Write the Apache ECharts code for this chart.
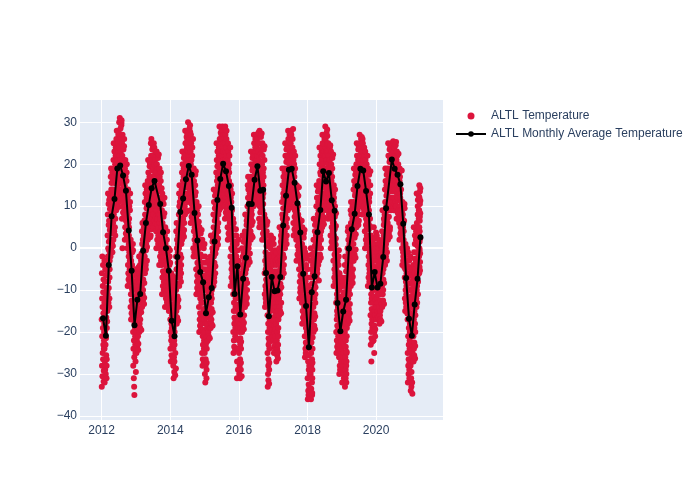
<!DOCTYPE html>
<html>
<head>
<meta charset="utf-8">
<script src="https://cdn.jsdelivr.net/npm/echarts@6/dist/echarts.min.js"></script>
<style>
    html, body { margin: 0; padding: 0; background: #fff; }
    #chart { width: 700px; height: 500px; }
</style>
</head>
<body>
<div id="chart"></div>
<script>
// Temperature readings, one list per month (Jan..Dec) for each year
var temp2012 = [
    [-17, -33, -6, -28, -12, -21, -2, -30.5, -14, -25, -9, -19, -4, -26.5, -10.5, -23, -15.5, -7.5, -31.8, -29.2, -24, -22, -20, -18, -13, -3],
    [-24, -32, -15, -27, -8, -20, -29, -5, -18, -23, -11, -30, -13, -21.5, -6.5, -25.5, -16.5, -9.5, -31, -28, -26.5, -19, -14, -12, -17.5, -10.3],
    [-15, -6, 3, -11, 8, -2, 13, -8, 0, -4, -13, 10.5, 5.5, -9.5, 1.5, -0.5, 6.5, 11.5, -14, -12, -7, -5, -3, 4.3, 9.3, 12.3, -1.3],
    [2, 12, -2, 8, 17, 5, 10, 19, 0, 14, 3.5, 15.5, 6.5, 9, 11, 1, 13, 18, -1, 4.3, 7.3, 16.3, 0.5, 12.5],
    [6, 14, 2, 21, 10, 25, 8, 17, 12, 4, 19, 23, 15.5, 9, 13, 5, 11, 20, 3, 7, 18, 22, 24, 16.3],
    [14, 22, 9, 26, 18, 12, 28, 20, 16, 24, 10.5, 13, 17, 19, 21, 15, 23, 25, 27, 11.3, 9.8, 27.7],
    [17, 24, 11, 30, 20, 14, 27, 22, 31, 18, 12.5, 15.5, 21, 25.5, 28.5, 19, 23, 16.5, 11.8, 13.3, 26.3, 29.3, 29.8, 30.5],
    [12, 20, 7, 25, 16, 22, 0, 27, 18, 14, 10, 8.5, 13, 19, 23.5, 15, 21, 11, 17, 24.3, 26, 9.3, 7.8],
    [8, 15, 2, 19, 12, 5, 21, 10, 17, 14, 3.5, 6.5, 9, 11, 13, 16, 18, 20, 2.8, 4.3, 5.8, 7.3],
    [0, 8, -9, 12, 4, -4, 14, 2, -6, 6, -7.5, -2, 1, 3, 5, 7, 10, -1, -8.3, -6.8, -5, -3, 9, 11, 13],
    [-8, -2, -14, 2, -5, -11, -17, -3, 0, -7, -15.5, -12.5, -9.5, -6, -4, -1, -10, -13, -16.3, -14.8, 1, -0.5],
    [-20, -28, -10, -24, -5, -16, -31, -22, -13, -33, -26, -35, -18, -8, -11.5, -14.5, -17, -19, -21, -23, -25, -27, -9, -6.5, -29.5]
];
var temp2013 = [
    [-12, -20, -5, -16, -25, -9, -14, -22, -7, -11, -23.5, -18, -13, -6, -8, -10, -15, -21, -19, -24.3, -22.8, -17, -5.8, -4.5],
    [-10, -16, -2, -13, -20, -6, -18, -8, -12, -4, -19, -17, -14.5, -11, -9, -7, -5, -3, -15.3, -19.5, -2.5, -1.3],
    [-2, -9, 4, -14, 1, -6, 6, -4, -11, 2, -12.5, -10, -7.5, -5, -3, -1, 0, 3, 5, -13.3, -11.8, -8.3, 6.6],
    [5, -2, 11, -6, 8, 15, 2, 13, 6, -4, -5, -0.5, 1, 3.5, 7, 9.5, 12, 14, -3, 0.3, 4.3, 10.3],
    [10, 4, 16, 2, 13, 21, 7, 18, 11, 8, 3, 5.5, 9, 12, 14.5, 17, 19.5, 15, 20.3, 6.3, 2.6],
    [14, 6, 20, 3, 17, 25, 10, 22, 12, 26, 4.5, 8, 11, 13, 15.5, 18.5, 21, 23.5, 5.3, 7, 9, 16.3, 19.3, 24.3],
    [16, 8, 22, 5, 19, 25, 12, 20, 14, 24, 6.5, 10, 13, 15, 17.5, 21, 23, 11, 5.8, 7.3, 9, 18.3],
    [13, 4, 18, 0, 15, 23, 9, 20, 11, 7, 2, 5.5, 10, 12, 14, 16.5, 19, 21.5, 1, 3, 4.8, 8, 17.3, 22.3],
    [10, 2, 15, -4, 12, 19, 6, 17, 8, 0, -2, 4, 7, 9, 11, 13.5, 16, 18, -3, -1, 1, 3, 5, 14.3],
    [4, -4, 9, -11, 2, 13, -7, 6, 0, 11, -9, -5.5, -2, 1, 3, 5, 7.5, 10.5, -10, -8, -6.3, -3, -1, 8.3, 12],
    [0, -6, 3, -14, -2, 5, -10, 1, -4, -8, -12, -11, -9, -7, -5, -3, -1, 2, -13, 4, -12.7],
    [-5, -10, -1, -14, -7, -3, -12, -6, 0, -9, -15, -13, -11, -8, -4, -2, -14.5, -0.5, -7.5, -3.5]
];
var temp2014 = [
    [-17, -24, -8, -20, -27, -12, -15, -22, -6, -18, -25.5, -21, -19, -16, -13.5, -10, -23, -14, -26.3, -11, -9, -7, -6.7],
    [-21, -28, -10, -24, -31, -15, -19, -26, -8, -22, -29.5, -27, -23, -20, -17, -13, -11.5, -18, -30.3, -25, -16, -14, -12.3, -9, -28.7],
    [-2, -10, 4, -15, -5, 6, -18, 0, -7, 2, -16.5, -13, -11.5, -8.5, -3.5, -1, 1, 3, -17.3, -14, -12.3, -6, -4.3, 5],
    [8, 0, 13, -9, 10, 15, 4, -3, 11, 6, -7, -5, -1.5, 2, 5, 7, 9, 12, -8, -6, -4, -2.3, 1, 3, 14],
    [12, 5, 18, 2, 14, 23, 9, 20, 11, 16, 3.5, 7, 10, 13, 15, 17, 19, 21.5, 2.7, 4.3, 6, 8, 22.3],
    [16, 10, 22, 8, 19, 28, 13, 25, 17, 21, 9, 11.5, 14.5, 18, 20, 23.5, 26.5, 15, 8.7, 12.3, 24.3, 27.3, 25.7],
    [20, 13, 25, 11, 22, 30, 16, 27, 19, 23, 12, 14.5, 17.5, 21, 24, 26, 28.5, 18, 11.7, 13.7, 15.3, 29.3, 27.7],
    [18, 9, 23, 6, 20, 27, 13, 25, 16, 21, 7.5, 10.5, 12, 14.5, 17, 19, 22, 24, 6.8, 8.3, 9.8, 11.3, 15.3, 26],
    [8, 0, 14, -2, 11, 19, 4, 16, 6, 10, -1, 2, 5, 7, 9, 12.5, 15, 17.5, 1, 3, 13.3, 18.3, -1.5],
    [2, -5, 7, -11, 4, 11, -2, 9, -8, 0, -9.5, -6.5, -3.5, -1, 1, 3, 5.5, 8, -10.3, -8.8, -7.3, -5.8, -4.3, 10, 6.3],
    [-6, -14, 0, -20, -3, 5, -10, -17, -8, 2, -18.5, -15.5, -12, -11, -4.5, -1.5, 3.5, -7, -19.3, -17.8, -16.3, -13, -9, 1, 4.3],
    [-8, -18, -2, -25, -5, 2, -13, -28, -10, -21, -26.5, -23, -19.5, -16, -14.5, -11.5, -6.5, -3.5, 0, -27.3, -24, -22, -20.3, -17, -9, 1]
];
var temp2015 = [
    [-15, -25, -5, -30, -10, -2, -20, -32, -13, -18, -28, -26.5, -23, -21.5, -16.5, -11.5, -8, -3.5, -7, -31, -29, -27.3, -24, -22.3, -19, -14, -12.3, -9, -6],
    [-12, -18, -5, -22, -9, -3, -15, -20, -11, -7, -21, -16.5, -14, -13, -10, -8, -6, -4, -21.5, -19, -17.3, -15.8],
    [-9, -16, -2, -19, -6, 3, -13, -11, -4, -17, -18, -14.5, -12, -10, -7.5, -5, -3, 0, 1.5, -18.5, -15.3, -8.3, -1, 2.3],
    [2, -5, 8, -9, 5, 14, -2, 11, 0, -7, -8, -3.5, 1, 3.5, 6.5, 9.5, 12.5, -0.5, -6, -4.3, -1.3, 4.3, 7.3, 10.3, 13.3],
    [11, 3, 18, 0, 14, 25, 7, 21, 9, 16, 1.5, 5, 12.5, 19.5, 23, 10, 17, 15, 0.8, 2.3, 4, 6, 8, 13.3, 20.3, 22, 24],
    [16, 10, 23, 9, 19, 29, 13, 26, 18, 21, 11.5, 14.5, 17, 20, 22, 24.5, 27.5, 15, 9.6, 10.8, 12.3, 13.8, 25.3, 26.8, 28.3],
    [20, 13, 26, 11, 22, 29, 16, 28, 19, 24, 12, 14.5, 17.5, 21, 23, 25, 27, 18, 11.6, 12.6, 13.8, 15.3, 16.8, 28.6],
    [18, 10, 25, 7, 21, 29, 14, 27, 17, 23, 8.5, 12, 15.5, 19.5, 22, 24, 26, 28, 7.7, 9.3, 11, 13, 14.8, 16.3, 20.3],
    [15, 5, 21, 2, 17, 25, 10, 23, 13, 19, 3.5, 7, 8.5, 11.5, 14, 16, 18, 20, 22, 2.7, 4.3, 6, 7.7, 9.3, 10.8, 12.3, 24],
    [10, -2, 14, -9, 12, 15, 4, 8, 0, 11, -7, -5, -3.5, 2, 6, 9, 13, -0.5, -8, -6, -4.3, -2.8, 1, 3, 5, 7],
    [-11, -20, -3, -25, -8, 6, -15, -22, -13, 0, -23.5, -18, -16.5, -10, -6, -4.5, -1.5, 3, 1.5, -24.3, -21, -19, -17.3, -14, -12, -9, -7, 4.5],
    [-4, -12, 3, -20, -2, -8, -15, 1, -6, -31, -27, -18, -16.5, -13.5, -10, -9, -5, -0.5, -24, -29, -19, -17.3, -14.3, -11, -7, -3, 2, -22]
];
var temp2016 = [
    [-16, -25, -8, -30, -12, -6, -20, -28, -14, -18, -31, -26.5, -23, -21.5, -19, -15, -10.5, -13, -29, -27.3, -24, -22.3, -17, -11.3, -9.3, -7, -30.5],
    [-7, -15, 0, -20, -4, 3, -11, -17, -9, -2, -18.5, -13, -12, -10, -6, -5, -1, 1.5, -19.3, -17.8, -16, -14, -8, -3, 2.3],
    [-2, -9, 4, -14, 0, 8, -6, -11, 2, -4, -12.5, -7.5, -5, -0.5, 1, 3, 5.5, 6.5, -13.3, -11.8, -10, -8.3, -3, 7.3],
    [10, 2, 15, -4, 12, 17, 6, 14, 8, 0, -2.5, 1, 4, 5, 7, 9, 11, 13, -3.3, -1.3, 3, 16, 16.6],
    [10, 4, 17, 2, 13, 23, 7, 20, 9, 15, 3, 5.5, 8, 11.5, 14, 16, 18.5, 21.5, 2.6, 6.3, 12.3, 19.3, 22.3],
    [16, 11, 22, 10, 19, 27, 14, 25, 17, 20, 12.5, 15, 18, 21, 23, 24, 26, 13, 10.5, 11.8, 26.5],
    [19, 13, 24, 11, 21, 27, 16, 26, 18, 22, 12, 14.5, 15, 17, 20, 23, 25, 27.5, 11.6, 12.6, 13.8],
    [14, 7, 21, 5, 17, 28, 10, 25, 12, 19, 6, 8.5, 11, 13, 15.5, 18, 22.5, 26.5, 5.6, 9.3, 16.3, 20, 23.8, 27.3],
    [14, 5, 20, 2, 16, 25, 9, 22, 12, 18, 3.5, 7, 10.5, 13, 15, 17, 19, 23.5, 2.7, 4.3, 6, 8, 21, 24.3],
    [-6, -11, 2, -14, -3, 7, -9, -1, -12, -5, -13, -10, -7.5, -4, -2, 0.5, 4, 5.5, -13.5, -8.3, 1.3, 3, 6.3],
    [-16, -25, -8, -33, -12, 3, -20, -30, -4, -18, -28, -31.5, -26.5, -23, -21.5, -14, -10, -6, -1.5, 0.5, -32.3, -29, -27.3, -24, -22.3, -19, -17, -15, -13, -11, -9, -7, -5, -2.8, 1.8],
    [-7, -15, 0, -22, -4, 3, -11, -18, -2, -9, -20.5, -16.5, -13, -12, -5.5, 1.5, -19.5, -14, -21.3, -17.3, -10, -8, -6.3, -3, -1, 2.3]
];
var temp2017 = [
    [-10, -17, -4, -22, -7, 1, -13, -25, -2, -11, -23.5, -20, -18.5, -15, -12, -8.5, -5.5, -0.5, -24.3, -22.8, -21, -19.3, -16, -14, -9.3, -6.3, -3, -1.3],
    [-10, -18, -4, -27, -7, -1, -14, -22, -12, -8, -25.5, -24, -20, -16, -11, -5.5, -2.5, -15, -26.3, -24.8, -23, -21, -19, -17, -13, -9, -6.3, -3.3],
    [-7, -12, 0, -16, -4, 5, -10, -14, -2, -6, -15, -11, -8.5, -5, -3, -1, 1.5, 3, -15.5, -13, -9.3, 0.8, 2.3, 4],
    [5, -3, 11, -7, 8, 19, 2, 15, 0, 7, -5, -1.5, 3.5, 9.5, 13, 17, 12, 6, -6, -4, -2.3, 1, 4.3, 14, 16, 18],
    [12, 4, 19, 0, 15, 25, 8, 22, 10, 17, 2, 6, 11, 13.5, 16, 20.5, 23.5, 14, 1, 3, 5, 7, 9, 18, 21.3, 24.3],
    [19, 11, 24, 9, 21, 28, 15, 26, 17, 22, 10, 12.5, 14, 16, 18, 20, 23, 27, 9.6, 10.6, 11.8, 13.3, 25, 27.5],
    [19, 13, 25, 11, 21, 28, 16, 27, 18, 23, 12, 14.5, 15, 17, 20, 22, 24, 26, 11.6, 12.6, 13.8, 28.4],
    [16, 6, 21, 3, 18, 23, 10, 20, 13, 17, 4.5, 7.5, 9, 11.5, 14.5, 19, 22, 15, 3.8, 5.3, 6.8, 8.3, 12.3],
    [11, 2, 14, -3, 12, 15, 6, 13, 9, 4, -1.5, 0.5, 3, 5, 7.5, 10, 8, 12.5, -2.3, -0.5, 1.3, 14.5],
    [4, -5, 7, -12, 5, 2, -8, 6, 0, -2, -10.5, -9.5, -6.5, -3.5, -1, 1, 3, -4, -11.3, -8.8, -7.3, -5.8, 6.5],
    [-6, -13, 1, -18, -3, 5, -10, -15, -8, -1, -16.5, -11.5, -9, -7, -4.5, -2, 2.5, 3.5, -17.3, -15.8, -14, -12.3, 0, 4.3],
    [-14, -21, -6, -26, -10, -1, -17, -24, -12, -8, -25, -22.5, -19, -15.5, -11, -4, -2.5, -18, -25.5, -23.3, -20, -16.3, -13, -9, -7, -5, -1.8]
];
var temp2018 = [
    [-24, -31, -13, -36, -20, -9, -27, -34, -17, -22, -35, -32.5, -29, -25.5, -18.5, -15, -11, -28, -35.5, -33.3, -30, -23, -21, -19.3, -16, -14, -12, -10],
    [-10, -20, -3, -30, -7, 0, -15, -36, -12, -25, -33.5, -28, -22.5, -18, -13.5, -5, -1.5, -8.5, -32, -26.5, -35, -34.5, -31, -29, -27.3, -24, -21.3, -19, -16.5, -11, -6, -4, -2.3],
    [-7, -14, 2, -20, -4, 7, -10, -17, -1, -6, -18.5, -15.5, -12, -8.5, -2.5, 0.5, 4, 5.5, -19.3, -16.3, -13, -11, -9.3, -5, -3.3, 1.3, 3, 6.3],
    [4, -3, 10, -7, 6, 15, 0, 12, 2, -5, -6, -1.5, 1, 3, 8, 13.5, 7, 11, -4, -2.3, 5, 9, 14.3, -7.7],
    [9, 1, 16, -3, 12, 24, 5, 20, 7, 14, -1.5, 3, 10.5, 18, 22, 11, 15, 17.5, -2.3, 0, 2, 4, 6, 8, 13, 19, 21, 23],
    [18, 8, 24, 5, 21, 27, 13, 25, 16, 20, 6.5, 10, 11.5, 14.5, 17, 19, 22.5, 23, 5.7, 7.3, 9, 12.3, 15.3, 26, 26.6],
    [16, 11, 22, 10, 19, 29, 13, 26, 15, 24, 12, 14, 17.5, 20.5, 23, 27.5, 18, 21, 10.5, 25, 28.3, 26.7, 24.7],
    [18, 9, 23, 7, 20, 25, 13, 22, 16, 11, 8, 10, 12, 14.5, 17, 19, 21, 24, 7.5, 15.3, 24.5],
    [11, 3, 18, 0, 14, 23, 7, 20, 9, 16, 1.5, 5, 10, 12.5, 15, 17, 19, 21.5, 0.7, 2.3, 4, 6, 8, 13.3, 22.3],
    [9, -3, 13, -9, 11, 15, 3, 12, 6, 0, -7, -5, -1.5, 1.5, 4.5, 7.5, 10, 14, -8, -6, -4, -2.3, -0.7, 0.8, 2.3, 5.3, 8.3],
    [-13, -20, -5, -25, -9, -1, -17, -22, -11, -15, -23.5, -18.5, -16, -12, -7, -3, -10, -14, -24.3, -22.8, -21, -19.3, -8, -6, -4, -2, -0.5],
    [-20, -26, -10, -30, -16, -6, -23, -28, -18, -13, -29, -24.5, -21.5, -19, -14.5, -11.5, -8, -17, -29.5, -27, -25.3, -22.3, -15.3, -12.3, -9, -7]
];
var temp2019 = [
    [-15, -24, -9, -32, -12, -8, -19, -28, -14, -21, -30, -26, -22.5, -17, -16, -10.5, -13, -25, -31, -29, -27, -23.3, -20, -18, -11.3],
    [-12, -20, -4, -33, -9, -2, -16, -26, -11, -14, -31, -29, -23.5, -22, -18, -7, -5.5, -28, -32, -30, -27, -25, -24.7, -21, -19, -17, -15, -13, -10, -8, -3, -4.7],
    [0, -8, 4, -18, -3, 5, -12, 2, -5, -1, -16.5, -14.5, -10, -6.5, -9, -4, 1, 3, -17.3, -15.5, -13.3, -11, -7.3, -2, -0.5],
    [4, -4, 9, -9, 6, 11, 0, 8, 2, -2, -7.5, -6, -0.5, 1, 3, 5, 7, 10, -8.3, -6.8, -5, -3, -1.3],
    [8, 1, 14, -3, 11, 19, 4, 16, 6, 10, -1.5, 2.5, 5, 9, 12.5, 15, 17.5, 13, -2.3, -0.3, 3.3, 7, 18.3],
    [15, 7, 20, 5, 17, 25, 11, 22, 13, 18, 6, 9, 12, 14, 16, 19, 21, 23.5, 5.5, 8, 10, 24.3, 6.5],
    [19, 12, 24, 10, 21, 27, 15, 25, 17, 22, 11, 13.5, 16, 18, 20, 23, 26, 14, 10.5, 11.5, 12.7, 26.5],
    [18, 11, 23, 8, 20, 26, 14, 25, 16, 21, 9.5, 12.5, 13, 15, 17, 19, 22, 24, 8.7, 10.2, 11.7],
    [14, 4, 19, 0, 16, 23, 9, 21, 12, 17, 2, 5.5, 7, 10.5, 13, 15, 18, 20, 1, 3, 4.8, 6.3, 8, 9.8, 11.3, 22],
    [8, 0, 14, -9, 10, 19, 3, 16, 6, -4, -7, -2, 1.5, 4.5, 9, 12, 17.5, 11, -8, -6, -5, -3, -1, 2.3, 5.3, 7, 13, 15, 18.3],
    [-9, -16, -2, -23, -6, 3, -13, -20, -11, -27, -21.5, -18, -14.5, -12, -8, -4, 0, -17, -22.3, -19, -15.3, -10, -7, -5, -3, -1, 1, 2],
    [-6, -13, 1, -22, -3, 5, -10, -17, -8, -25, -20, -18.5, -15, -11.5, -4.5, -1, 2.5, -14, -21, -19.3, -16, -12.3, -9, -7, -5.3, -2, 0, 3.7]
];
var temp2020 = [
    [-9, -14, -3, -17, -7, 3, -12, -5, -10, -1, -16, -15, -13, -11, -8, -6, -4, 1, -16.5, -2, 0, 2, -14.5],
    [-8, -14, -2, -18, -6, 1, -11, -16, -9, -4, -17, -15, -12.5, -10, -7, -5, -3, 0, -17.5, -13.3, -1, 0.5],
    [-2, -9, 4, -14, 0, 9, -6, -11, 2, -4, -12.5, -10, -7.5, -5, -0.5, 3, 5.5, 7, -13.3, -8.3, -3, 1, 6.3, 8],
    [9, 2, 14, -4, 11, 19, 6, 16, 8, 0, -2, 1, 4, 10, 12.5, 15, 17.5, 5, -3, -1, 3, 7, 13.3, 18.3],
    [13, 6, 19, 2, 15, 25, 9, 22, 11, 17, 3.5, 7.5, 10, 12, 14, 16.5, 20.5, 23.5, 2.7, 4.3, 5, 18, 21.3, 24.3],
    [21, 12, 24, 9, 19, 25, 15, 23, 17, 22, 10.5, 13.5, 14, 16, 18, 20, 11, 24.5, 9.7, 25.5],
    [19, 12, 23, 9, 21, 25, 15, 24, 17, 20, 10.5, 13.5, 14, 16, 18, 22, 11, 24.5, 9.7, 10, 25.3],
    [17, 10, 21, 7, 19, 23, 13, 22, 15, 18, 8.5, 11.5, 12, 14, 16, 20, 9, 22.5, 7.7, 8, 6.7],
    [15, 6, 18, 2, 16, 19, 10, 17, 13, 12, 3.5, 5, 7.5, 9, 11, 14, 4, 8, 2.7, 3, 18.5],
    [6, 0, 9, -4, 7, 11, 3, 8, 5, -1, -3, -2, 1, 2, 4, 10, -0.5, 6.5, -4.5, -3.5, 10.5, 9.5],
    [-7, -12, -2, -15, -5, 1, -10, -13, -8, -4, -14, -11, -9, -6, -3, -1, 0, -12.5, -15.6, -14.5],
    [-17, -25, -7, -32, -13, -1, -21, -28, -15, -10, -30, -26.5, -23, -19, -11.5, -8.5, -4.5, -3, -29, -31, -27.3, -24, -22, -20, -18, -16, -14, -12.3, -6, -2]
];
var temp2021 = [
    [-21, -28, -10, -34, -17, -5, -24, -31, -19, -14, -33, -29.5, -26, -22.5, -15.5, -12, -8, -6.5, -32, -27, -34.7, -25, -23.3, -20, -18, -16.3, -13, -11, -9, -7.3],
    [-13, -21, -4, -27, -10, 5, -17, -24, -8, -1, -25.5, -22.5, -19, -15, -11.5, -6, -2.5, 1, 3, -18, -26.3, -23.3, -20, -16, -14, -12.3, -9, -7, -5, -3.3, 2, 4],
    [-7, -12, 2, -14, -4, 13, -10, 6, -1, -9, -13, -5.5, -2.5, 0.5, 4, 8, 10, 11.5, -11, -8, -6.3, -3.3, -1.8, 1.3, 3, 5, 7, 9, 12.3],
    [3, -2, 9, -6, 5, 15, 0, 12, -4.5, -0.5, 1.5, 4, 6.5, 7.5, 10.5, 13.5, -5.3, -3.3, -1.3, 2.3, 8.3, 11.3, 14.3]
];
// readings stop in the middle of the last month
var lastMonthSpan = 0.5;

// Monthly averages (Jan..Dec), null = no point for that month
var avg2012 = [-16.7, -20.9, -4.0, 7.6, 11.7, 19.0, 19.7, 17.3, 13.7, 4.2, -5.4, -18.4];
var avg2013 = [-12.3, -10.9, -0.6, 6.0, 10.3, 14.3, 16.0, null, 10.5, 3.8, 0.0, -5.4];
var avg2014 = [-17.3, -21.0, -2.1, 8.6, 11.8, 16.4, 19.6, 17.5, 8.4, 1.8, -5.7, -8.1];
var avg2015 = [-15.5, -11.7, -9.5, 1.6, 11.5, 16.5, 20.1, 18.3, 14.8, 9.6, -10.9, -4.3];
var avg2016 = [-15.8, -7.3, -2.3, 10.5, 10.5, 16.3, 19.5, 13.7, 13.9, -5.9, -16.2, -6.9];
var avg2017 = [-10.3, -10.1, -6.9, 5.4, 12.5, 18.7, 18.9, 15.6, 10.7, 3.7, -6.1, -13.8];
var avg2018 = [-23.6, -10.5, -6.7, 3.8, 9.1, 18.3, 15.9, 17.9, 11.4, 8.9, -13.1, -19.8];
var avg2019 = [-15.1, -12.3, -0.1, 4.5, 8.2, 14.8, 18.9, 18.5, 13.6, 8.0, -9.4, -5.7];
var avg2020 = [-9.4, -8.5, -2.1, 9.5, null, 21.1, 18.9, 17.5, 15.2, 5.8, -7.1, -16.8];
var avg2021 = [-20.9, -13.4, -7.3, 2.6];

var years = [2012, 2013, 2014, 2015, 2016, 2017, 2018, 2019, 2020, 2021];
var tempByYear = [temp2012, temp2013, temp2014, temp2015, temp2016, temp2017, temp2018, temp2019, temp2020, temp2021];
var avgByYear = [avg2012, avg2013, avg2014, avg2015, avg2016, avg2017, avg2018, avg2019, avg2020, avg2021];

// tick labels
var xTicks = [2012, 2014, 2016, 2018, 2020];
var yTicks = [-40, -30, -20, -10, 0, 10, 20, 30];

var scatterData = [];
var avgData = [];
years.forEach(function (yr, k) {
    var months = tempByYear[k];
    months.forEach(function (vals, m) {
        var isLast = (k === years.length - 1 && m === months.length - 1);
        var span = isLast ? lastMonthSpan : 1;
        vals.forEach(function (v, i) {
            scatterData.push([yr + (m + span * (i + 0.5) / vals.length) / 12, v]);
        });
    });
    avgByYear[k].forEach(function (v, m) {
        if (v !== null) {
            avgData.push([yr + (m + 0.5) / 12, v]);
        }
    });
});

var fontCol = '#2a3f5f';
var chart = echarts.init(document.getElementById('chart'));

chart.setOption({
    animation: false,
    textStyle: { fontFamily: 'Arial, "Liberation Sans", sans-serif' },
    grid: {
        left: 80, right: 257, top: 100, bottom: 80,
        show: true, backgroundColor: '#E5ECF6', borderWidth: 0,
        outerBoundsMode: 'none'
    },
    legend: {
        orient: 'vertical',
        left: 450,
        top: 105,
        itemWidth: 30,
        itemHeight: 7,
        itemGap: 6,
        textStyle: { color: fontCol, fontSize: 12 },
        data: ['ALTL Temperature', 'ALTL Monthly Average Temperature']
    },
    xAxis: {
        type: 'value',
        min: 2011.37,
        max: 2021.95,
        axisLine: { show: false, onZero: false },
        axisTick: { show: false, customValues: xTicks },
        axisLabel: {
            customValues: xTicks,
            color: fontCol, fontSize: 12, margin: 5,
            formatter: function (v) { return String(Math.round(v)); }
        },
        splitLine: { show: true, lineStyle: { color: '#fff', width: 1 } }
    },
    yAxis: {
        type: 'value',
        min: -40.95,
        max: 35.3,
        axisLine: { show: false },
        axisTick: { show: false, customValues: yTicks },
        axisLabel: {
            customValues: yTicks,
            color: fontCol, fontSize: 12, margin: 3,
            formatter: function (v) { return String(Math.round(v)).replace('-', '\u2212'); }
        },
        splitLine: { show: true, lineStyle: { color: '#fff', width: 1 } }
    },
    series: [
        {
            name: 'zero',
            type: 'line',
            data: [],
            z: 1,
            silent: true,
            markLine: {
                z: 1,
                silent: true,
                symbol: 'none',
                label: { show: false },
                lineStyle: { color: '#fff', width: 2, type: 'solid' },
                data: [{ yAxis: 0 }]
            }
        },
        {
            name: 'ALTL Temperature',
            type: 'scatter',
            z: 2,
            symbolSize: 6,
            progressive: 0,
            itemStyle: { color: '#DC143C', opacity: 1 },
            data: scatterData
        },
        {
            name: 'ALTL Monthly Average Temperature',
            type: 'line',
            z: 3,
            symbol: 'circle',
            symbolSize: 6,
            showSymbol: true,
            lineStyle: { color: '#000', width: 2 },
            itemStyle: { color: '#000' },
            data: avgData
        }
    ]
});
</script>
</body>
</html>
